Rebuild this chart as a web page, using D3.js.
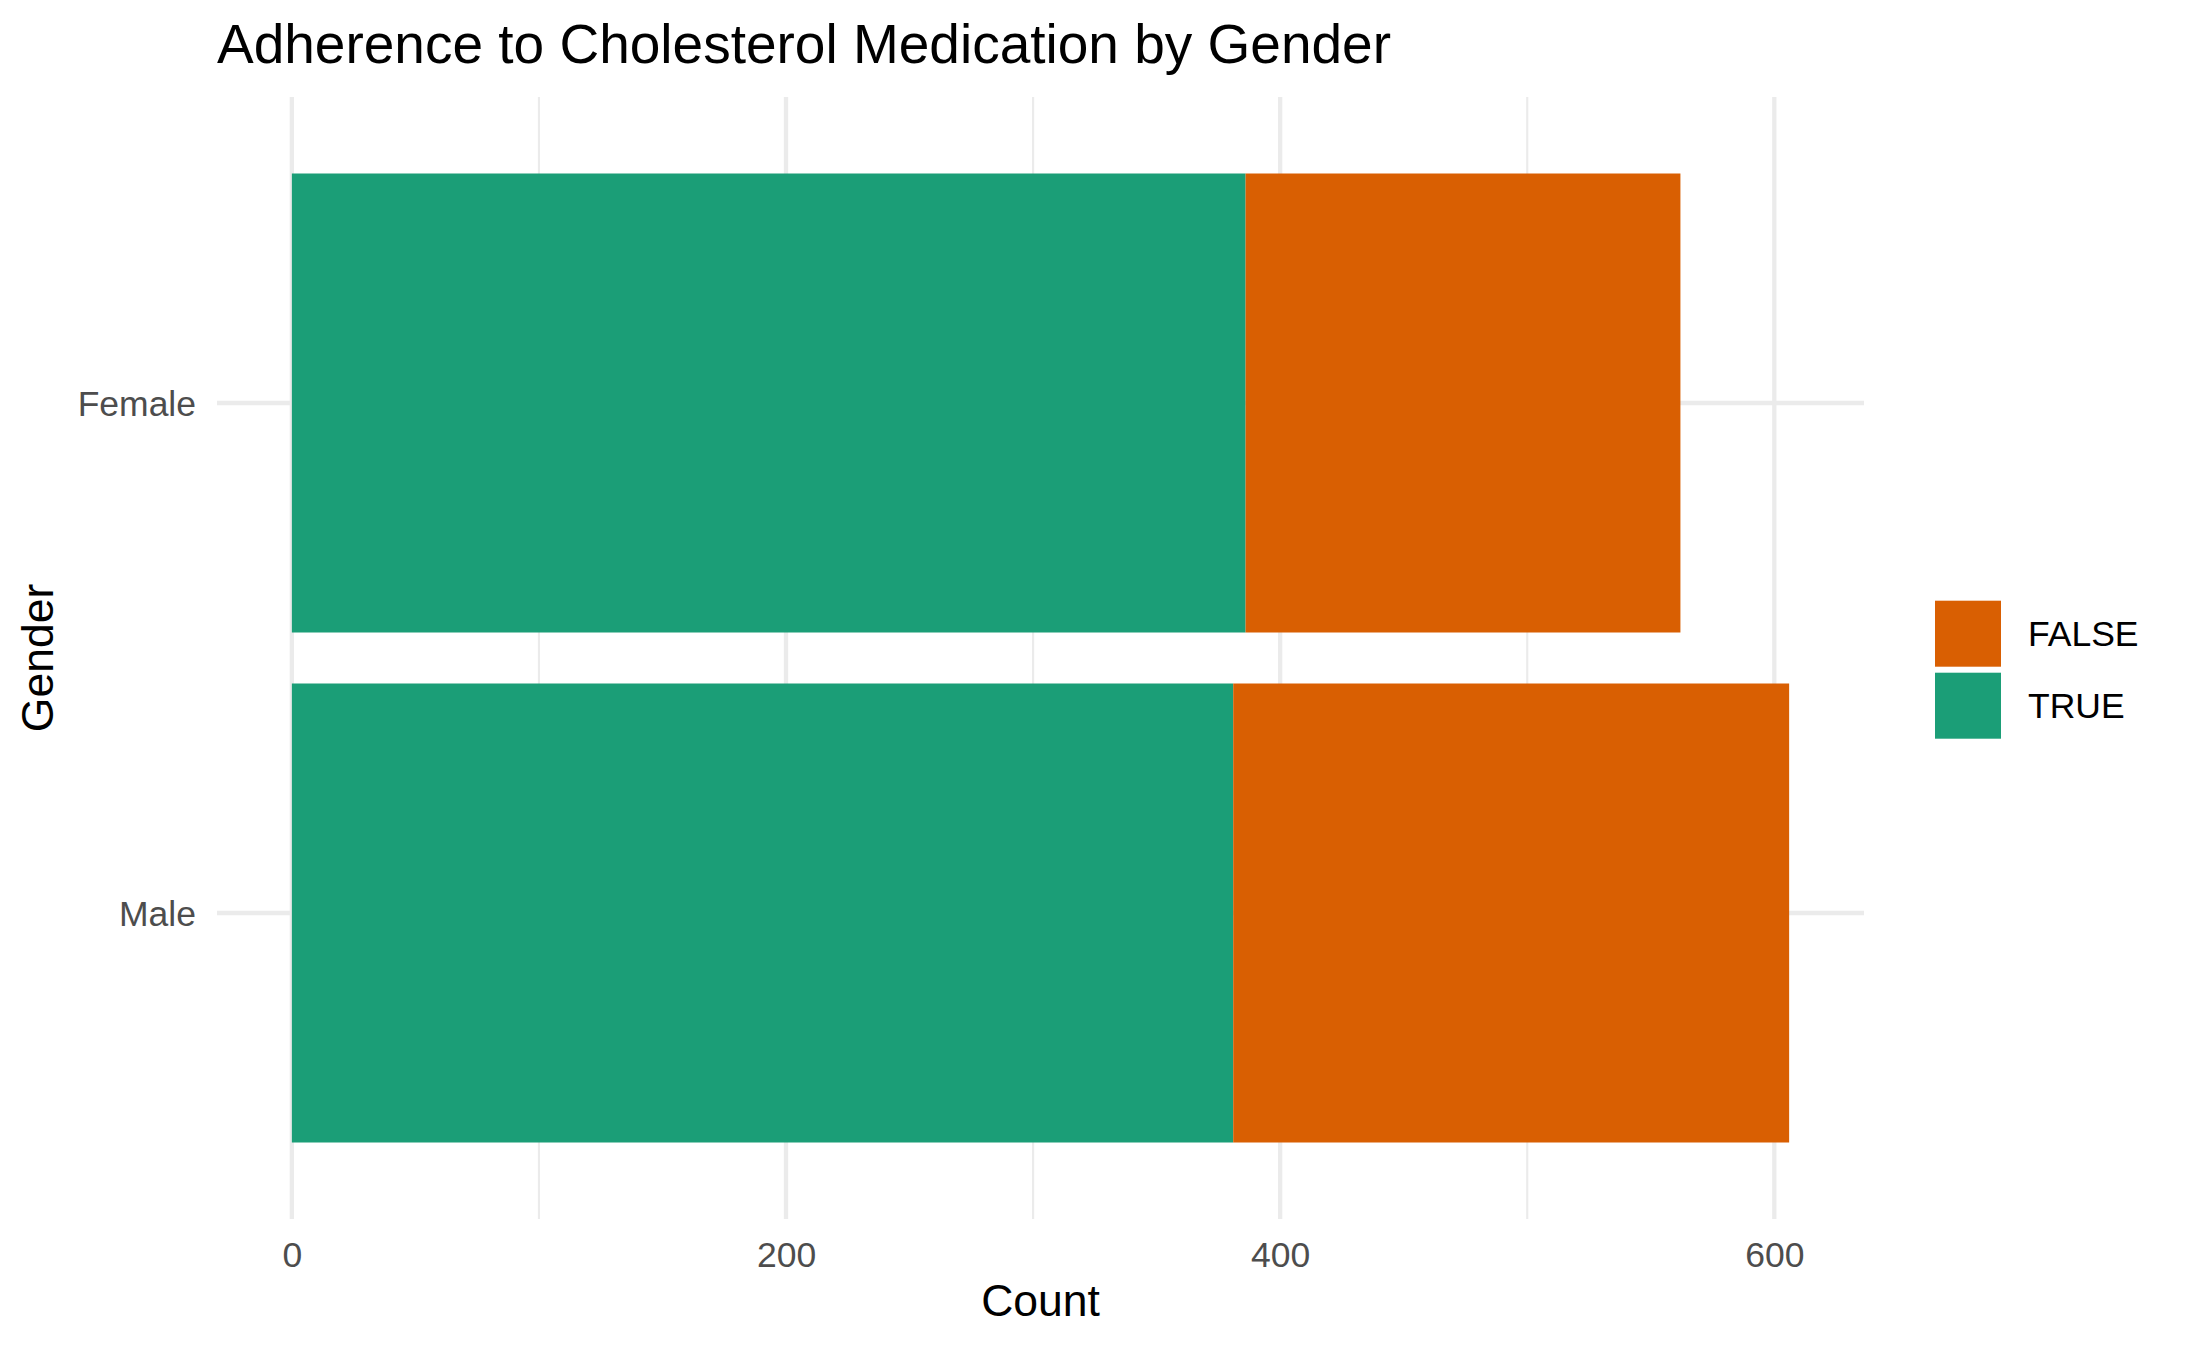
<!DOCTYPE html>
<html>
<head>
<meta charset="utf-8">
<script src="https://cdn.jsdelivr.net/npm/d3@7"></script>
<style>
  html, body { margin: 0; padding: 0; background: #ffffff; }
  svg { display: block; font-family: "Liberation Sans", Arial, sans-serif; }
</style>
</head>
<body>
<svg id="chart" width="2187" height="1349"></svg>
<script>
// ---- data ----
const genders = ["Female", "Male"];
const adherenceKeys = ["TRUE", "FALSE"];      // stacking order (left to right)
const legendKeys = ["FALSE", "TRUE"];         // legend order
const trueCounts = [386, 381];
const falseCounts = [176, 225];
const xTickValues = [0, 200, 400, 600];
const xMinorValues = [100, 300, 500];
const colors = { "TRUE": "#1B9E77", "FALSE": "#D95F02" };

const titleText = "Adherence to Cholesterol Medication by Gender";
const xTitle = "Count";
const yTitle = "Gender";

// ---- layout ----
const W = 2187, H = 1349;
const panel = { left: 217, right: 1864, top: 97, bottom: 1219 };

const rows = genders.map((g, i) => ({ gender: g, "TRUE": trueCounts[i], "FALSE": falseCounts[i] }));
const stacked = d3.stack().keys(adherenceKeys)(rows);

const maxTotal = d3.max(rows, d => d.TRUE + d.FALSE);
const expand = 0.05 * maxTotal;

const x = d3.scaleLinear().domain([0 - expand, maxTotal + expand]).range([panel.left, panel.right]);
const y = d3.scaleBand().domain(genders).range([panel.top, panel.bottom]).paddingInner(0.1).paddingOuter(0.15);

const svg = d3.select("#chart");
svg.append("rect").attr("width", W).attr("height", H).attr("fill", "#ffffff");

// ---- grid ----
const grid = svg.append("g");
grid.selectAll("line.minor").data(xMinorValues).join("line")
  .attr("x1", d => x(d)).attr("x2", d => x(d))
  .attr("y1", panel.top).attr("y2", panel.bottom)
  .attr("stroke", "#EBEBEB").attr("stroke-width", 2.15);
grid.selectAll("line.majx").data(xTickValues).join("line")
  .attr("x1", d => x(d)).attr("x2", d => x(d))
  .attr("y1", panel.top).attr("y2", panel.bottom)
  .attr("stroke", "#EBEBEB").attr("stroke-width", 4.3);
grid.selectAll("line.majy").data(genders).join("line")
  .attr("x1", panel.left).attr("x2", panel.right)
  .attr("y1", d => y(d) + y.bandwidth() / 2).attr("y2", d => y(d) + y.bandwidth() / 2)
  .attr("stroke", "#EBEBEB").attr("stroke-width", 4.3);

// ---- bars ----
const bars = svg.append("g");
stacked.forEach(layer => {
  bars.selectAll(null).data(layer).join("rect")
    .attr("x", d => x(d[0]))
    .attr("width", d => x(d[1]) - x(d[0]))
    .attr("y", d => y(d.data.gender))
    .attr("height", y.bandwidth())
    .attr("fill", colors[layer.key]);
});

// ---- axes ----
const xAxis = svg.append("g")
  .attr("transform", `translate(0,${panel.bottom})`)
  .call(d3.axisBottom(x).tickValues(xTickValues).tickSize(0).tickPadding(0).tickFormat(d3.format("d")));
xAxis.select(".domain").remove();
xAxis.selectAll("text")
  .attr("y", 47.5).attr("dy", null)
  .attr("fill", "#4D4D4D").attr("font-size", 35.5)
  .attr("font-family", "Liberation Sans, Arial, sans-serif");

const yAxis = svg.append("g")
  .attr("transform", `translate(${panel.left},0)`)
  .call(d3.axisLeft(y).tickSize(0).tickPadding(21));
yAxis.select(".domain").remove();
yAxis.selectAll("text")
  .attr("dy", "0.36em")
  .attr("fill", "#4D4D4D").attr("font-size", 35.5)
  .attr("font-family", "Liberation Sans, Arial, sans-serif");

// ---- titles ----
svg.append("text")
  .attr("x", 217).attr("y", 62.5)
  .attr("font-size", 55).attr("fill", "#000000")
  .text(titleText);

svg.append("text")
  .attr("x", (panel.left + panel.right) / 2).attr("y", 1316)
  .attr("text-anchor", "middle")
  .attr("font-size", 44.5).attr("fill", "#000000")
  .text(xTitle);

svg.append("text")
  .attr("transform", `translate(53,${(panel.top + panel.bottom) / 2}) rotate(-90)`)
  .attr("text-anchor", "middle")
  .attr("font-size", 44.5).attr("fill", "#000000")
  .text(yTitle);

// ---- legend ----
const legend = svg.append("g").attr("transform", "translate(1935,600.7)");
const keySize = 66, keyGap = 6;
legendKeys.forEach((k, i) => {
  const g = legend.append("g").attr("transform", `translate(0,${i * (keySize + keyGap)})`);
  g.append("rect").attr("width", keySize).attr("height", keySize).attr("fill", colors[k]);
  g.append("text").attr("x", 93).attr("y", 45.5)
    .attr("font-size", 35.5).attr("fill", "#000000").text(k);
});
</script>
</body>
</html>
